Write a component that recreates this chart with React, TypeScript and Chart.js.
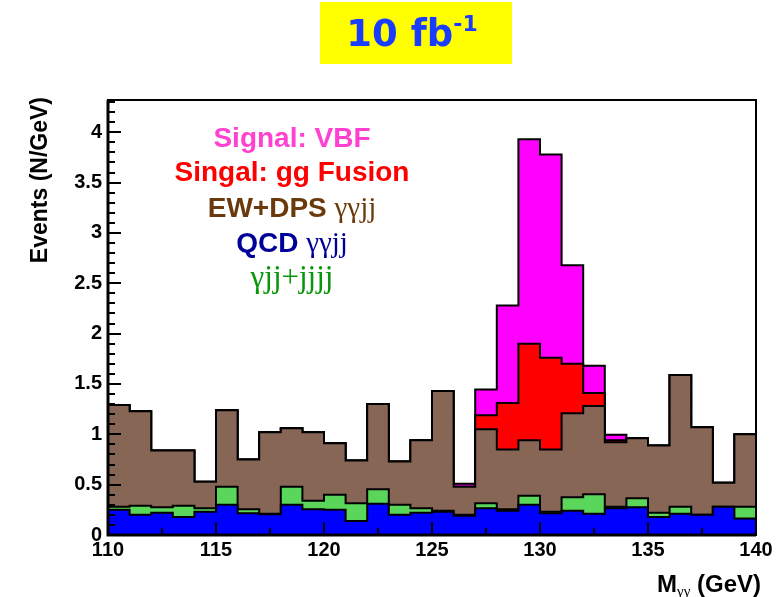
import React, { useEffect, useRef } from "react";
import { Chart, registerables } from "chart.js";

Chart.register(...registerables);

// Bin edges of M_gamma-gamma (GeV), 1 GeV bins
const binEdges = [110, 111, 112, 113, 114, 115, 116, 117, 118, 119, 120, 121, 122, 123, 124, 125, 126, 127, 128, 129, 130, 131, 132, 133, 134, 135, 136, 137, 138, 139, 140];

// Per-process contributions (N/GeV), stacked bottom -> top
const qcdGammaGammaJJ = [0.25, 0.20, 0.22, 0.18, 0.23, 0.30, 0.215, 0.205, 0.30, 0.255, 0.25, 0.14, 0.31, 0.20, 0.22, 0.23, 0.19, 0.265, 0.24, 0.30, 0.215, 0.24, 0.21, 0.265, 0.275, 0.18, 0.21, 0.20, 0.28, 0.165];
const gammaJJJplusJJJJ = [0.03, 0.09, 0.055, 0.11, 0.035, 0.18, 0.04, 0.005, 0.18, 0.085, 0.15, 0.175, 0.145, 0.10, 0.045, 0.01, 0.01, 0.05, 0.015, 0.09, 0.015, 0.135, 0.195, 0.015, 0.09, 0.04, 0.07, 0.0, 0.0, 0.115];
const ewDpsGammaGammaJJ = [1.01, 0.94, 0.565, 0.55, 0.265, 0.76, 0.495, 0.81, 0.58, 0.68, 0.51, 0.425, 0.845, 0.43, 0.675, 1.19, 0.28, 0.735, 0.595, 0.55, 0.62, 0.835, 0.875, 0.64, 0.595, 0.67, 1.31, 0.87, 0.24, 0.72];
const ggFusionSignal = [0, 0, 0, 0, 0, 0, 0, 0, 0, 0, 0, 0, 0, 0, 0, 0, 0, 0.14, 0.46, 0.96, 0.91, 0.49, 0.13, 0.02, 0, 0, 0, 0, 0, 0];
const vbfSignal = [0, 0, 0, 0, 0, 0, 0, 0, 0, 0, 0, 0, 0, 0, 0, 0, 0.03, 0.255, 0.97, 2.03, 2.02, 0.98, 0.27, 0.055, 0, 0, 0, 0, 0, 0];

const xTickValues = [110, 115, 120, 125, 130, 135, 140];
const yTickValues = [0, 0.5, 1, 1.5, 2, 2.5, 3, 3.5, 4];
const yMax = 4.32;

const layerColors = ["#0000ff", "#5ad65a", "#876656", "#ff0000", "#ff00ff"];

function cumulativeLayers(layers: number[][]): number[][] {
  const out: number[][] = [];
  let run = layers[0].map(() => 0);
  for (const l of layers) {
    run = run.map((v, i) => v + l[i]);
    out.push(run.slice());
  }
  return out;
}

function toStepPoints(values: number[]) {
  const pts = values.map((v, i) => ({ x: binEdges[i], y: v }));
  pts.push({ x: binEdges[binEdges.length - 1], y: values[values.length - 1] });
  return pts;
}

type Part = { text: string; font: string; dy?: number };

function measureParts(ctx: CanvasRenderingContext2D, parts: Part[]) {
  let w = 0;
  for (const p of parts) {
    ctx.font = p.font;
    w += ctx.measureText(p.text).width;
  }
  return w;
}

function drawParts(ctx: CanvasRenderingContext2D, parts: Part[], x: number, y: number, color: string, align: "center" | "left" | "right") {
  const w = measureParts(ctx, parts);
  let cx = align === "center" ? x - w / 2 : align === "right" ? x - w : x;
  ctx.fillStyle = color;
  ctx.textAlign = "left";
  ctx.textBaseline = "alphabetic";
  for (const p of parts) {
    ctx.font = p.font;
    ctx.fillText(p.text, cx, y + (p.dy || 0));
    cx += ctx.measureText(p.text).width;
  }
}

const SANS = "'Liberation Sans', Arial, sans-serif";
const SERIF = "'Liberation Serif', 'Times New Roman', serif";

const decoPlugin = {
  id: "deco",
  beforeDraw(chart: any) {
    const ctx: CanvasRenderingContext2D = chart.ctx;
    ctx.save();
    ctx.fillStyle = "#ffffff";
    ctx.fillRect(0, 0, chart.width, chart.height);
    // title box
    ctx.fillStyle = "#ffff00";
    ctx.fillRect(320, 2, 192, 62);
    const titleParts: Part[] = [
      { text: "10 fb", font: `bold 37px 'DejaVu Sans', sans-serif` },
      { text: "-1", font: `bold 22px 'DejaVu Sans', sans-serif`, dy: -15 },
    ];
    drawParts(ctx, titleParts, 412, 46, "#1a3cff", "center");
    ctx.restore();
  },
  afterDatasetsDraw(chart: any) {
    const ctx: CanvasRenderingContext2D = chart.ctx;
    const a = chart.chartArea;
    const xs = chart.scales.x;
    const ys = chart.scales.y;
    ctx.save();
    ctx.strokeStyle = "#000";
    // y ticks
    ctx.lineWidth = 2;
    for (let i = 0; i <= 43; i++) {
      const v = i / 10;
      const py = Math.round(ys.getPixelForValue(v));
      const len = i % 5 === 0 ? 13 : 7;
      ctx.beginPath();
      ctx.moveTo(a.left, py);
      ctx.lineTo(a.left + len, py);
      ctx.stroke();
    }
    // x ticks
    for (let i = 0; i <= 12; i++) {
      const v = 110 + i * 2.5;
      const px = Math.round(xs.getPixelForValue(v));
      const len = i % 2 === 0 ? 13 : 7;
      ctx.beginPath();
      ctx.moveTo(px, a.bottom);
      ctx.lineTo(px, a.bottom - len);
      ctx.stroke();
    }
    // frame
    ctx.lineWidth = 2;
    ctx.strokeRect(a.left, a.top, a.right - a.left, a.bottom - a.top);
    ctx.lineWidth = 3;
    ctx.beginPath();
    ctx.moveTo(a.left, a.top);
    ctx.lineTo(a.left, a.bottom);
    ctx.lineTo(a.right, a.bottom);
    ctx.stroke();

    // legend text
    const lb = `bold 28px ${SANS}`;
    const lg = `29px ${SERIF}`;
    const cx = 292;
    drawParts(ctx, [{ text: "Signal: VBF", font: lb }], cx, 146.5, "#ff40d0", "center");
    drawParts(ctx, [{ text: "Singal: gg Fusion", font: lb }], cx, 181, "#ff0000", "center");
    drawParts(ctx, [{ text: "EW+DPS ", font: lb }, { text: "γγjj", font: lg }], cx, 217, "#6a3a0c", "center");
    drawParts(ctx, [{ text: "QCD ", font: lb }, { text: "γγjj", font: lg }], cx, 252, "#000099", "center");
    drawParts(ctx, [{ text: "γjj+jjjj", font: `31px ${SERIF}` }], cx, 287, "#0a960a", "center");

    // x title
    drawParts(
      ctx,
      [
        { text: "M", font: `bold 24px ${SANS}` },
        { text: "γγ", font: `15px ${SERIF}`, dy: 4 },
        { text: " (GeV)", font: `bold 24px ${SANS}` },
      ],
      761,
      592,
      "#000",
      "right"
    );
    // y title
    ctx.translate(46.5, 97);
    ctx.rotate(-Math.PI / 2);
    ctx.font = `bold 23px ${SANS}`;
    ctx.fillStyle = "#000";
    ctx.textAlign = "right";
    ctx.textBaseline = "alphabetic";
    ctx.fillText("Events (N/GeV)", 0, 0);
    ctx.restore();
  },
};

export default function App() {
  const canvasRef = useRef<HTMLCanvasElement | null>(null);

  useEffect(() => {
    const canvas = canvasRef.current;
    if (!canvas) return;
    const cum = cumulativeLayers([qcdGammaGammaJJ, gammaJJJplusJJJJ, ewDpsGammaGammaJJ, ggFusionSignal, vbfSignal]);
    const names = ["QCD γγjj", "γjj+jjjj", "EW+DPS γγjj", "Singal: gg Fusion", "Signal: VBF"];
    const datasets = cum.map((vals, i) => ({
      label: names[i],
      data: toStepPoints(vals),
      stepped: true as const,
      borderColor: "#000000",
      borderWidth: 2,
      backgroundColor: layerColors[i],
      fill: i === 0 ? "origin" : "-1",
      pointRadius: 0,
      pointHoverRadius: 0,
      tension: 0,
    }));

    const chart = new Chart(canvas, {
      type: "line",
      data: { datasets },
      options: {
        animation: false,
        responsive: false,
        events: [],
        layout: { padding: { left: 48, right: 22, top: 100, bottom: 32 } },
        plugins: {
          legend: { display: false },
          tooltip: { enabled: false },
          title: { display: false },
        },
        scales: {
          x: {
            type: "linear",
            min: 110,
            max: 140,
            afterFit: (s: any) => {
              s.height = 30;
            },
            afterBuildTicks: (s: any) => {
              s.ticks = xTickValues.map((v) => ({ value: v }));
            },
            ticks: {
              autoSkip: false,
              maxRotation: 0,
              padding: 3,
              color: "#000",
              font: { family: "'Liberation Sans', Arial, sans-serif", size: 20, weight: "bold" },
              callback: (v: any) => String(v),
            },
            grid: { display: false, drawTicks: false },
            border: { display: false },
          },
          y: {
            type: "linear",
            min: 0,
            max: yMax,
            afterFit: (s: any) => {
              s.width = 60;
            },
            afterBuildTicks: (s: any) => {
              s.ticks = yTickValues.map((v) => ({ value: v }));
            },
            ticks: {
              autoSkip: false,
              padding: 6,
              color: "#000",
              font: { family: "'Liberation Sans', Arial, sans-serif", size: 20, weight: "bold" },
              callback: (v: any) => String(v),
            },
            grid: { display: false, drawTicks: false },
            border: { display: false },
          },
        },
      },
      plugins: [decoPlugin],
    });
    return () => chart.destroy();
  }, []);

  return (
    <div style={{ position: "absolute", left: 0, top: 0, width: 778, height: 597 }}>
      <canvas ref={canvasRef} width={778} height={597} style={{ display: "block", width: 778, height: 597 }} />
    </div>
  );
}
